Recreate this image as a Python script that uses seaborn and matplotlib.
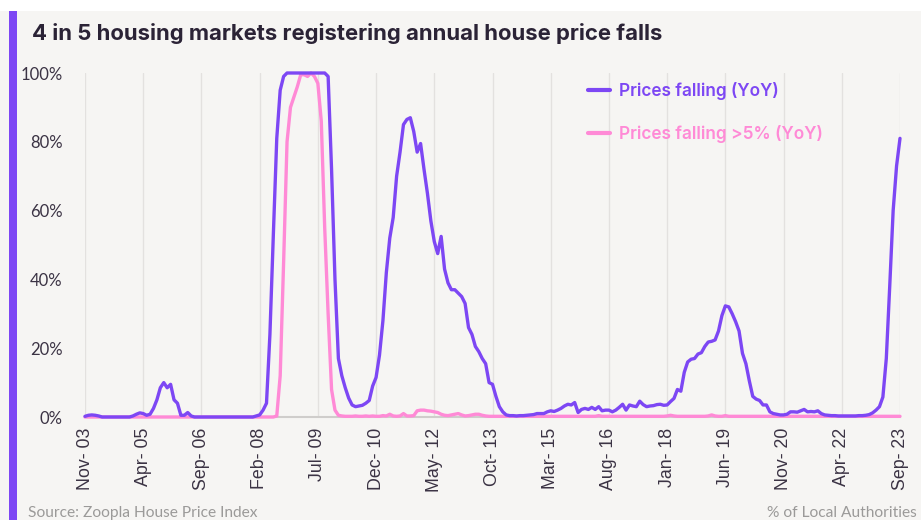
import numpy as np
import pandas as pd
import seaborn as sns
import matplotlib.pyplot as plt
from matplotlib.patches import Rectangle

# monthly share of local authorities (%), Nov-03 .. Sep-23
falling = [
    0.2, 0.5,                                                        # 2003
    0.6, 0.5, 0.3, 0, 0, 0, 0, 0, 0, 0, 0, 0,                        # 2004
    0.3, 0.8, 1.2, 1.0, 0.5, 0.8, 2.5, 5, 8.5, 10, 8.5, 9.5,          # 2005
    5, 4, 0.5, 0.5, 1.3, 0.3, 0, 0, 0, 0, 0, 0,                      # 2006
    0, 0, 0, 0, 0, 0, 0, 0, 0, 0, 0, 0,                              # 2007
    0.3, 0.6, 2, 4, 24, 53, 81, 95, 99, 100, 100, 100,               # 2008
    100, 100, 100, 100, 100, 100, 100, 100, 100, 99, 72, 40,         # 2009
    17, 12, 8.5, 5.5, 3.5, 3, 3.2, 3.4, 4, 4.8, 9, 11.5,             # 2010
    18, 28, 42, 52, 58, 70, 77, 85, 86.5, 87, 83, 77,                # 2011
    79.5, 72, 65, 57, 51, 47.5, 52.5, 43, 39, 37, 37, 36,            # 2012
    35, 33, 26, 24, 20.5, 19, 17, 15.5, 10, 9.5, 6, 3,               # 2013
    1.5, 0.6, 0.4, 0.4, 0.3, 0.4, 0.4, 0.5, 0.6, 0.7, 1.0, 1.0,      # 2014
    1.0, 1.5, 1.8, 1.6, 2.0, 2.5, 3.2, 3.7, 3.5, 4.2, 1.3, 2.2,      # 2015
    2.5, 2.2, 2.8, 2.2, 3.0, 1.8, 2.0, 2.0, 1.5, 2.0, 2.8, 3.7,      # 2016
    2.0, 3.5, 3.2, 3.0, 4.6, 3.6, 3.0, 3.2, 3.3, 3.6, 3.7, 3.4,      # 2017
    3.5, 4.5, 5.4, 8, 7.5, 13, 16, 16.8, 17, 18.3, 18.7, 20.5,       # 2018
    21.8, 22, 22.4, 25, 29.5, 32.3, 32, 30, 27.7, 25, 18.5, 15.5,    # 2019
    10.5, 6, 5.2, 4.8, 3.5, 3.5, 1.5, 1.0, 0.8, 0.6, 0.6, 0.8,       # 2020
    1.5, 1.5, 1.4, 1.8, 2.2, 1.5, 1.6, 1.5, 1.8, 1.0, 0.6, 0.5,      # 2021
    0.4, 0.4, 0.3, 0.3, 0.3, 0.3, 0.3, 0.3, 0.4, 0.4, 0.5, 0.7,      # 2022
    1.2, 2.0, 3.0, 5.8, 17, 38, 60, 73, 81,                          # 2023
]

falling_5 = [
    0, 0,                                                            # 2003
    0, 0, 0, 0, 0, 0, 0, 0, 0, 0, 0, 0,                              # 2004
    0, 0, 0, 0, 0, 0, 0, 0, 0, 0, 0, 0,                              # 2005
    0, 0, 0, 0, 0, 0, 0, 0, 0, 0, 0, 0,                              # 2006
    0, 0, 0, 0, 0, 0, 0, 0, 0, 0, 0, 0,                              # 2007
    0, 0, 0, 0, 0, 0, 0.3, 12, 45, 80, 90, 93,                       # 2008
    96, 99.5, 99.5, 99, 100, 99, 97, 86, 55, 30, 8, 2,               # 2009
    0.5, 0.3, 0.2, 0.2, 0.2, 0.3, 0.2, 0.2, 0.3, 0.2, 0.3, 0.2,      # 2010
    0.2, 0.4, 0.3, 0.8, 0.3, 0.2, 0.3, 1.0, 0.3, 0.3, 0.4, 1.8,      # 2011
    2.0, 2.0, 1.8, 1.7, 1.5, 1.3, 0.8, 0.5, 0.4, 0.6, 0.8, 1.0,      # 2012
    0.6, 0.3, 0.4, 0.6, 0.8, 0.8, 0.5, 0.3, 0.2, 0.2, 0.2, 0.2,      # 2013
    0.2, 0.2, 0.2, 0.2, 0.2, 0.2, 0.2, 0.2, 0.2, 0.2, 0.2, 0.2,      # 2014
    0.2, 0.2, 0.2, 0.2, 0.2, 0.2, 0.2, 0.2, 0.2, 0.2, 0.2, 0.2,      # 2015
    0.2, 0.2, 0.2, 0.2, 0.4, 0.2, 0.2, 0.2, 0.2, 0.2, 0.2, 0.2,      # 2016
    0.2, 0.2, 0.2, 0.2, 0.2, 0.2, 0.2, 0.2, 0.2, 0.2, 0.2, 0.2,      # 2017
    0.3, 0.5, 0.3, 0.2, 0.2, 0.2, 0.2, 0.2, 0.2, 0.2, 0.2, 0.2,      # 2018
    0.3, 0.6, 0.3, 0.2, 0.2, 0.4, 0.2, 0.2, 0.2, 0.2, 0.2, 0.2,      # 2019
    0.2, 0.2, 0.2, 0.2, 0.2, 0.2, 0.2, 0.2, 0.2, 0.2, 0.2, 0.2,      # 2020
    0.2, 0.2, 0.2, 0.2, 0.2, 0.2, 0.2, 0.2, 0.2, 0.2, 0.2, 0.2,      # 2021
    0.2, 0.2, 0.2, 0.2, 0.2, 0.2, 0.2, 0.2, 0.2, 0.2, 0.2, 0.2,      # 2022
    0.2, 0.2, 0.2, 0.2, 0.2, 0.2, 0.2, 0.2, 0.2,                     # 2023
]

tick_labels = ['Nov- 03', 'Apr- 05', 'Sep- 06', 'Feb- 08', 'Jul- 09', 'Dec- 10',
               'May- 12', 'Oct- 13', 'Mar- 15', 'Aug- 16', 'Jan- 18', 'Jun- 19',
               'Nov- 20', 'Apr- 22', 'Sep- 23']
y_ticks = [0, 20, 40, 60, 80, 100]

PURPLE = '#7d47f4'
PINK = '#ff8ad6'
BG = '#f6f5f3'
TXT = '#3b3344'

months = pd.date_range('2003-11-01', periods=len(falling), freq='MS')
month_lab = [m.strftime('%b- %y') for m in months]
df = pd.DataFrame({'idx': np.arange(len(falling)),
                   'falling': falling, 'falling_5': falling_5})

sns.set_style('white')
plt.rcParams['font.family'] = ['Lato', 'DejaVu Sans']

fig = plt.figure(figsize=(9.21, 5.2), dpi=100, facecolor='white')
fig.patches.append(Rectangle((0, 0), 1, 1 - 11 / 520, transform=fig.transFigure,
                             facecolor=BG, edgecolor='none', zorder=-2))
fig.patches.append(Rectangle((9 / 921, 0), 8 / 921, 1 - 11 / 520, transform=fig.transFigure,
                             facecolor=PURPLE, edgecolor='none', zorder=-1))

ax = fig.add_axes([85 / 921, 1 - 417 / 520, (900 - 85) / 921, (417 - 73) / 520])
ax.set_facecolor(BG)

sns.lineplot(ax=ax, data=df, x='idx', y='falling', color=PURPLE, lw=2.4,
             label='Prices falling (YoY)', clip_on=False, zorder=4)
sns.lineplot(ax=ax, data=df, x='idx', y='falling_5', color=PINK, lw=2.4,
             label='Prices falling >5% (YoY)', clip_on=False, zorder=3)

ax.set_xlim(0, len(falling) - 1)
ax.set_ylim(0, 100)
ticks = [month_lab.index(t) for t in tick_labels]
ax.set_xticks(ticks)
ax.set_xticklabels(tick_labels, rotation=90, fontsize=12.8, color=TXT,
                   family=['Liberation Sans', 'DejaVu Sans'])
ax.set_yticks(y_ticks)
ax.set_yticklabels([f'{v}%' for v in y_ticks], fontsize=12, color=TXT)
ax.tick_params(axis='x', length=0, pad=8)
ax.tick_params(axis='y', length=0, pad=16)
ax.set_xlabel('')
ax.set_ylabel('')
for x in ticks:
    ax.axvline(x, color='#e3e1df', lw=1, zorder=0)
for s in ['top', 'right', 'left']:
    ax.spines[s].set_visible(False)
ax.spines['bottom'].set_color('#cfcdcb')
ax.spines['bottom'].set_linewidth(1.5)

leg = ax.legend(loc='upper left', bbox_to_anchor=(0.598, 1.02), frameon=False,
                handlelength=1.3, handletextpad=0.5, labelspacing=1.45,
                labelcolor='linecolor',
                prop={'size': 12.4, 'weight': 'semibold', 'family': ['Inter', 'DejaVu Sans']})
for h in leg.get_lines():
    h.set_linewidth(3)

fig.text(32 / 921, 1 - 33 / 520, '4 in 5 housing markets registering annual house price falls',
         fontsize=15.9, fontweight='bold', color='#2b2336', va='center', ha='left',
         family=['Inter', 'DejaVu Sans'])
fig.text(28 / 921, 1 - 513 / 520, 'Source: Zoopla House Price Index',
         fontsize=11.2, color='#9b9a99', va='center', ha='left')
fig.text(917 / 921, 1 - 513 / 520, '% of Local Authorities',
         fontsize=11.2, color='#9b9a99', va='center', ha='right')

fig.savefig('out.png', dpi=100, facecolor=fig.get_facecolor())
